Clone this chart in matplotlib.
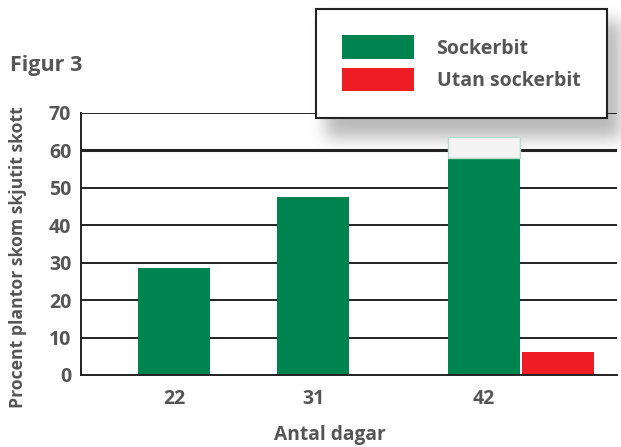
import numpy as np
import matplotlib
matplotlib.use("Agg")
import matplotlib.pyplot as plt
from matplotlib.patches import Rectangle

days = [22, 31, 42]
sockerbit = [28.5, 47.5, 63.5]
utan_sockerbit = [None, None, 6.1]
yticks = [0, 10, 20, 30, 40, 50, 60, 70]

green = "#00844f"
red = "#ee1c25"
grey_txt = "#555555"

plt.rcParams["font.family"] = ["Open Sans", "DejaVu Sans"]

W, H = 621, 447
fig = plt.figure(figsize=(W / 100, H / 100), dpi=100)
ax = fig.add_axes([81 / W, 1 - 375 / H, (617 - 81) / W, (375 - 113) / H])
ax.set_facecolor("none")

# soft drop shadow under the legend box (figure level, behind the axes)
lx0, ly0, lx1, ly1 = 316, 9, 611, 124
mask = np.zeros((H, W))
mask[ly0 + 12:ly1 + 14, lx0 + 10:lx1 + 12] = 1.0
k = np.exp(-0.5 * (np.arange(-24, 25) / 8.0) ** 2)
k /= k.sum()
blur = np.apply_along_axis(lambda r: np.convolve(r, k, mode="same"), 1, mask)
blur = np.apply_along_axis(lambda c: np.convolve(c, k, mode="same"), 0, blur)
shadow = np.zeros((H, W, 4))
shadow[..., :3] = 0.55
shadow[..., 3] = 0.6 * blur
fig.figimage(shadow, xo=0, yo=0, origin="upper", zorder=-1)

bw = 4.65
ax.bar(days, sockerbit, width=bw, color=green, zorder=2, label="Sockerbit")
red_x = [d + bw + 0.13 for d, v in zip(days, utan_sockerbit) if v is not None]
red_v = [v for v in utan_sockerbit if v is not None]
ax.bar(red_x, red_v, width=bw, color=red, zorder=2, label="Utan sockerbit")

ax.set_xlim(16, 50.6)
ax.set_ylim(0, 70)
ax.set_yticks(yticks)
ax.set_xticks(days)
ax.set_xticklabels([str(d) for d in days])

# the legend shadow washes out the top of the last green bar
fade_y = ax.transData.inverted().transform((0, H - 158))[1]
bar_patch = ax.patches[len(days) - 1]
fade = Rectangle((days[-1] - bw, fade_y), 2 * bw, 80,
                 facecolor="#f4f4f4", edgecolor="none", zorder=3)
ax.add_patch(fade)
fade.set_clip_path(bar_patch)
edge = Rectangle((days[-1] - bw / 2, fade_y), bw, sockerbit[-1] - fade_y,
                 facecolor="none", edgecolor="#b5dccd", linewidth=1, zorder=3)
ax.add_patch(edge)

for y in yticks[1:]:
    ax.axhline(y, color="#222222", linewidth=2.2 if y == 60 else 1.4, zorder=1)
for s in ["top", "right"]:
    ax.spines[s].set_visible(False)
for s in ["left", "bottom"]:
    ax.spines[s].set_color("#222222")
    ax.spines[s].set_linewidth(1.4)
ax.tick_params(length=0, labelsize=14, labelcolor=grey_txt, pad=7)
ax.tick_params(axis="x", pad=10)
for t in ax.get_xticklabels() + ax.get_yticklabels():
    t.set_fontweight("bold")

ax.set_xlabel("Antal dagar", fontsize=13.8, fontweight="bold", color=grey_txt)
ax.xaxis.set_label_coords((330 - 81) / (617 - 81), -(435 - 375) / (375 - 113), transform=ax.transAxes)
ax.xaxis.label.set_va("center")
fig.text(18 / W, 1 - 257 / H, "Procent plantor skom skjutit skott", rotation=90,
         ha="center", va="center", fontsize=12.7, fontweight="bold", color=grey_txt)
fig.text(10 / W, 1 - 66 / H, "Figur 3", ha="left", va="center", fontsize=15.5,
         fontweight="bold", color=grey_txt)

leg = fig.legend(loc="upper left", bbox_to_anchor=(lx0 / W, 1 - ly0 / H), borderaxespad=0,
                 handlelength=3.7, handleheight=1.5, labelspacing=0.45,
                 handletextpad=1.15, borderpad=1.35, fancybox=False, framealpha=1,
                 edgecolor="#222222", labelcolor=grey_txt,
                 prop={"weight": "bold", "size": 14})
leg.get_frame().set_linewidth(1.5)

fig.savefig("out.png", dpi=100)
